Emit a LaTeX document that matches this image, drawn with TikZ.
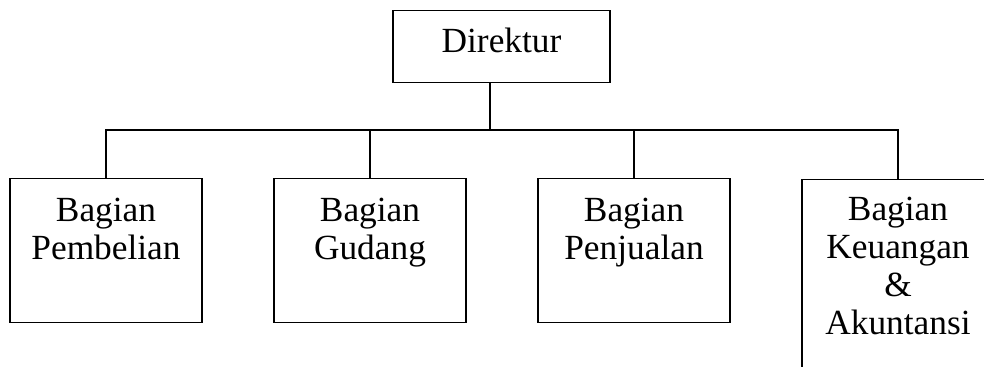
\documentclass[tikz,border=0pt]{standalone}
\usepackage{fontspec}
\setmainfont{Liberation Serif}

\tikzset{
  unitbox/.style={draw, line width=1.1pt, inner sep=0pt, align=center,
    text width=144pt, font=\fontsize{26.5}{28.5}\selectfont},
}

\begin{document}
\begin{tikzpicture}[x=0.75pt,y=0.75pt,yscale=-1,xscale=1]
\useasboundingbox (0,0) rectangle (984,367);
\clip (0,0) rectangle (984,367);

%Shape: Rectangle [direktur]
\node [unitbox, anchor=north, text width=162.75pt, text height=31.5pt, text depth=22.5pt] (direktur) at (501.5,10) {Direktur};

%Shape: Rectangle [bagian]
\node [unitbox, anchor=north, text height=32.25pt, text depth=75.75pt] (pembelian) at (106,178) {Bagian\\Pembelian};
\node [unitbox, anchor=north, text height=32.25pt, text depth=75.75pt] (gudang) at (370,178) {Bagian\\Gudang};
\node [unitbox, anchor=north, text height=32.25pt, text depth=75.75pt] (penjualan) at (634,178) {Bagian\\Penjualan};
\node [unitbox, anchor=north, text height=30.75pt, text depth=119.25pt] (keuangan) at (898,179) {Bagian\\Keuangan\\\&\\Akuntansi};

%Straight Lines [connectors]
\coordinate (bus) at (490,130);
\draw [line width=1.1pt] (bus |- direktur.south) -- (bus);
\foreach \b in {pembelian,gudang,penjualan,keuangan}
  \draw [line width=1.1pt] (\b.north) |- (bus);

\end{tikzpicture}
\end{document}
